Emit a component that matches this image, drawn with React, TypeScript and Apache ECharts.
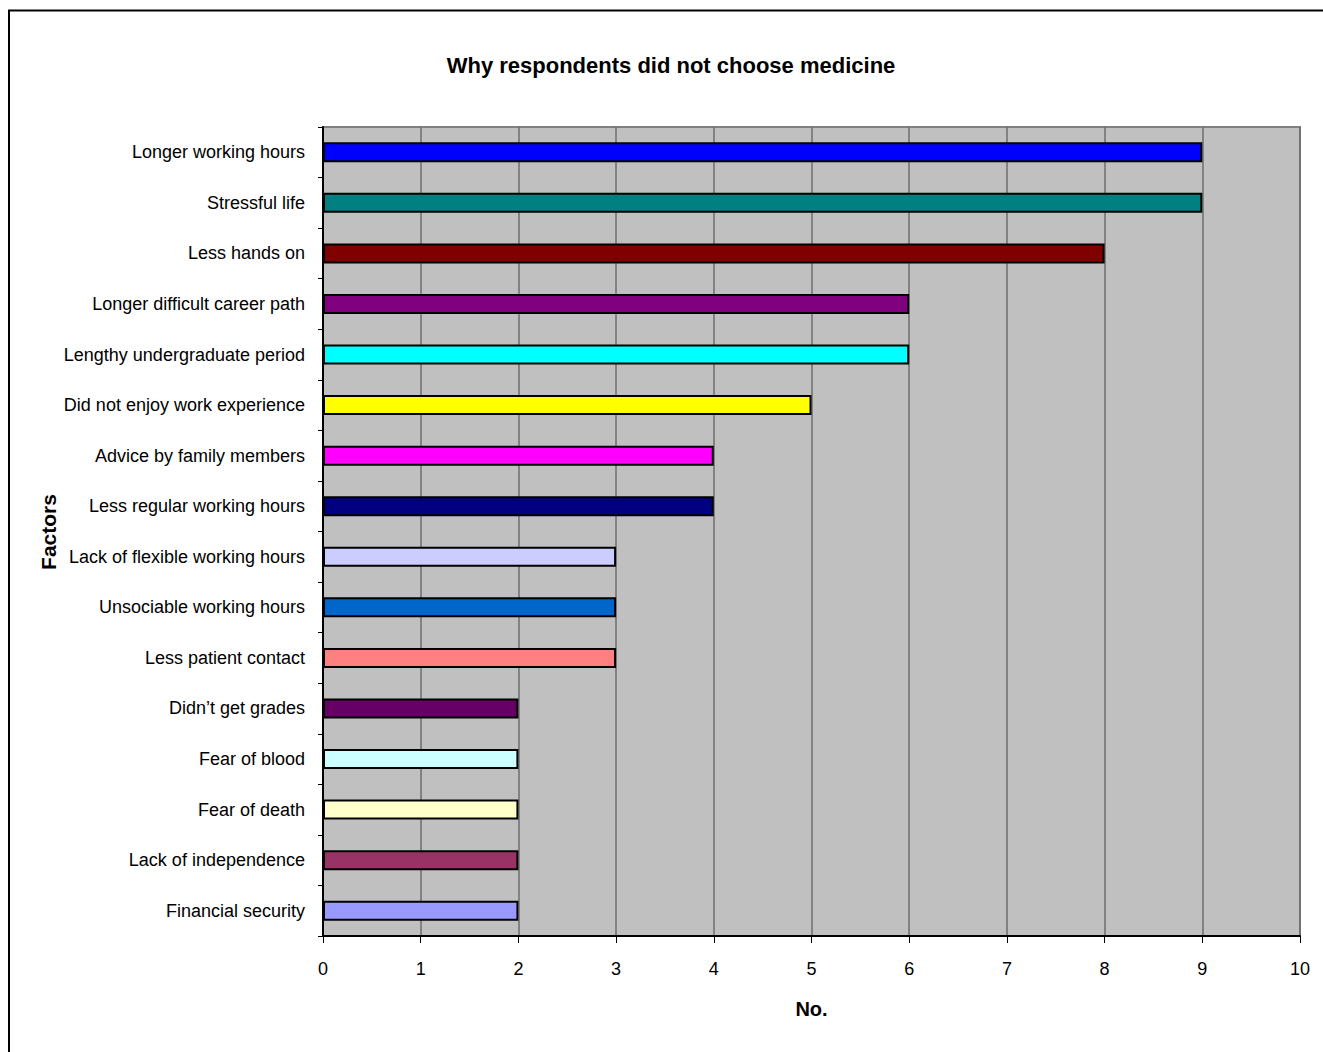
import React, { useEffect, useRef } from "react";
import * as echarts from "echarts";

const categories = [
  "Longer working hours",
  "Stressful life",
  "Less hands on",
  "Longer difficult career path",
  "Lengthy undergraduate period",
  "Did not enjoy work experience",
  "Advice by family members",
  "Less regular working hours",
  "Lack of flexible working hours",
  "Unsociable working hours",
  "Less patient contact",
  "Didn\u2019t get grades",
  "Fear of blood",
  "Fear of death",
  "Lack of independence",
  "Financial security",
];
const values = [9, 9, 8, 6, 6, 5, 4, 4, 3, 3, 3, 2, 2, 2, 2, 2];
const barColors = [
  "#0000FF", "#008080", "#800000", "#800080", "#00FFFF", "#FFFF00",
  "#FF00FF", "#000080", "#CCCCFF", "#0066CC", "#FF8080", "#660066",
  "#CCFFFF", "#FFFFCC", "#993366", "#9999FF",
];
const xTicks = [0, 1, 2, 3, 4, 5, 6, 7, 8, 9, 10];

const FONT = "'Liberation Sans Narrow', 'Liberation Sans', Arial, sans-serif";

export default function App() {
  const ref = useRef<HTMLDivElement>(null);
  useEffect(() => {
    const chart = echarts.init(ref.current!, null, { renderer: "svg" });
    chart.setOption({
      animation: false,
      backgroundColor: "#FFFFFF",
      title: {
        text: "Why respondents did not choose medicine",
        left: 666,
        textAlign: "center",
        top: 49,
        textStyle: { fontFamily: FONT, fontSize: 22, fontWeight: "bold", color: "#000" },
      },
      graphic: [
        {
          type: "rect",
          shape: { x: 9, y: 10.5, width: 1400, height: 1100 },
          style: { fill: "none", stroke: "#000", lineWidth: 2 },
          silent: true,
        },
        {
          type: "text",
          x: 48,
          y: 532,
          rotation: Math.PI / 2,
          style: {
            text: "Factors",
            fontFamily: "'Liberation Sans', Arial, sans-serif",
            fontSize: 21,
            fontWeight: "bold",
            fill: "#000",
            align: "center",
            verticalAlign: "middle",
          },
        },
      ],
      grid: {
        left: 323,
        right: 23,
        top: 127,
        bottom: 116,
        show: true,
        backgroundColor: "#C0C0C0",
        borderColor: "#808080",
        borderWidth: 2,
      },
      xAxis: {
        type: "value",
        min: xTicks[0],
        max: xTicks[xTicks.length - 1],
        interval: 1,
        name: "No.",
        nameLocation: "middle",
        nameGap: 63,
        nameTextStyle: { fontFamily: FONT, fontSize: 20, fontWeight: "bold", color: "#000" },
        axisLine: { show: true, lineStyle: { color: "#000", width: 2 } },
        axisTick: { show: true, length: 7, lineStyle: { color: "#000", width: 1 } },
        axisLabel: { fontFamily: FONT, fontSize: 18, color: "#000", margin: 24 },
        splitLine: { show: true, lineStyle: { color: "#6E6E6E", width: 1.5 } },
      },
      yAxis: {
        type: "category",
        data: categories,
        inverse: true,
        axisLine: { show: true, lineStyle: { color: "#000", width: 2 } },
        axisTick: { show: true, length: 5, lineStyle: { color: "#000", width: 1 } },
        axisLabel: { fontFamily: FONT, fontSize: 18, color: "#000", margin: 18 },
        splitLine: { show: false },
      },
      series: [
        {
          type: "bar",
          data: values.map((v, i) => ({ value: v, itemStyle: { color: barColors[i] } })),
          barWidth: 20,
          itemStyle: { borderColor: "#000", borderWidth: 2 },
        },
      ],
    });
    return () => chart.dispose();
  }, []);
  return (
    <div
      ref={ref}
      style={{ position: "absolute", left: 0, top: 0, width: 1323, height: 1052 }}
    />
  );
}
